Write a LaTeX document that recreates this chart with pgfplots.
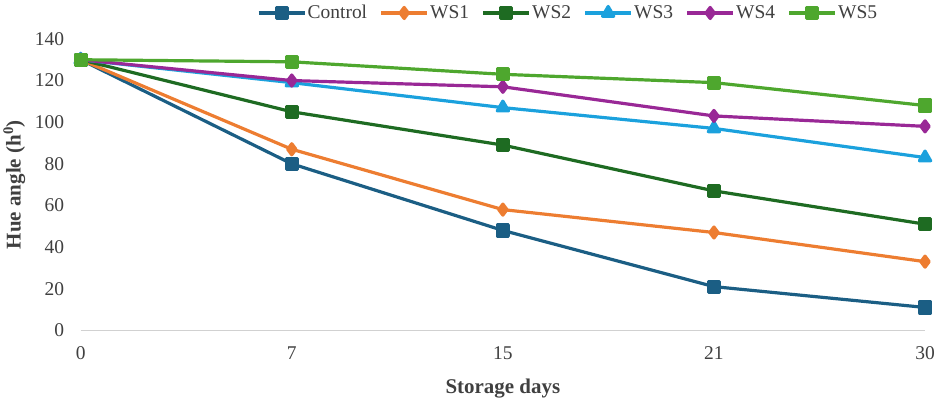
\documentclass[border=0pt]{standalone}
\usepackage{pgfplots}
\pgfplotsset{compat=1.18}
\usepackage{fontspec}
\setmainfont{Liberation Serif}
\definecolor{cControl}{HTML}{1B5E84}
\definecolor{cWSone}{HTML}{ED7D31}
\definecolor{cWStwo}{HTML}{1E6B22}
\definecolor{cWSthree}{HTML}{1BA1DD}
\definecolor{cWSfour}{HTML}{992896}
\definecolor{cWSfive}{HTML}{4EA72E}
\definecolor{tick}{HTML}{404040}
\begin{document}
\begin{tikzpicture}
\begin{axis}[
  at={(0,0)}, anchor=origin,
  scale only axis, width=846bp, height=292bp,
  xmin=0, xmax=4, ymin=0, ymax=140,
  xtick={0,1,2,3,4}, xticklabels={0,7,15,21,30},
  ytick={0,20,...,140},
  axis line style={draw=none},
  axis x line*=bottom, axis y line*=left,
  tick style={draw=none},
  ticklabel style={font=\fontsize{19.5bp}{22bp}\selectfont, text=tick},
  /pgf/number format/assume math mode=true,
  xticklabel style={yshift=-13bp},
  yticklabel style={xshift=-13bp},
  xlabel={\textbf{Storage days}},
  ylabel={\textbf{Hue angle (h\textsuperscript{0})}},
  label style={font=\fontsize{21bp}{24bp}\selectfont, text=tick},
  xlabel style={yshift=-12bp},
  ylabel style={yshift=3bp},
  clip=false,
  legend style={draw=none, fill=none, at={(0.577,1.089)}, anchor=center,
    legend columns=-1, font=\fontsize{19.5bp}{22bp}\selectfont, text=tick,
    /tikz/every even column/.append style={column sep=11bp},
    nodes={inner xsep=1.5bp}},
  legend image code/.code={
    \draw[#1, mark repeat=2, mark phase=2] plot coordinates {(0bp,0bp) (23bp,0bp) (46bp,0bp)};},
  every axis plot/.append style={line width=3.2bp, line join=round},
]
\draw[color=black!18, line width=1.5bp] (axis cs:0,0) -- (axis cs:4,0);
\addplot[cControl, mark=square*, mark size=5.5bp, mark options={solid}] coordinates {(0,130) (1,80) (2,48) (3,21) (4,11)};
\addlegendentry{Control}
\addplot[cWSone, mark=diamond*, mark size=5.5bp, mark options={solid}] coordinates {(0,130) (1,87) (2,58) (3,47) (4,33)};
\addlegendentry{WS1}
\addplot[cWStwo, mark=square*, mark size=5.5bp, mark options={solid}] coordinates {(0,130) (1,105) (2,89) (3,67) (4,51)};
\addlegendentry{WS2}
\addplot[cWSthree, mark=triangle*, mark size=6.5bp, mark options={solid}] coordinates {(0,130) (1,119) (2,107) (3,97) (4,83)};
\addlegendentry{WS3}
\addplot[cWSfour, mark=diamond*, mark size=5.5bp, mark options={solid}] coordinates {(0,130) (1,120) (2,117) (3,103) (4,98)};
\addlegendentry{WS4}
\addplot[cWSfive, mark=square*, mark size=5.5bp, mark options={solid}] coordinates {(0,130) (1,129) (2,123) (3,119) (4,108)};
\addlegendentry{WS5}
\end{axis}
\useasboundingbox (-79bp,-70bp) rectangle (860bp,331bp);
\end{tikzpicture}
\end{document}
